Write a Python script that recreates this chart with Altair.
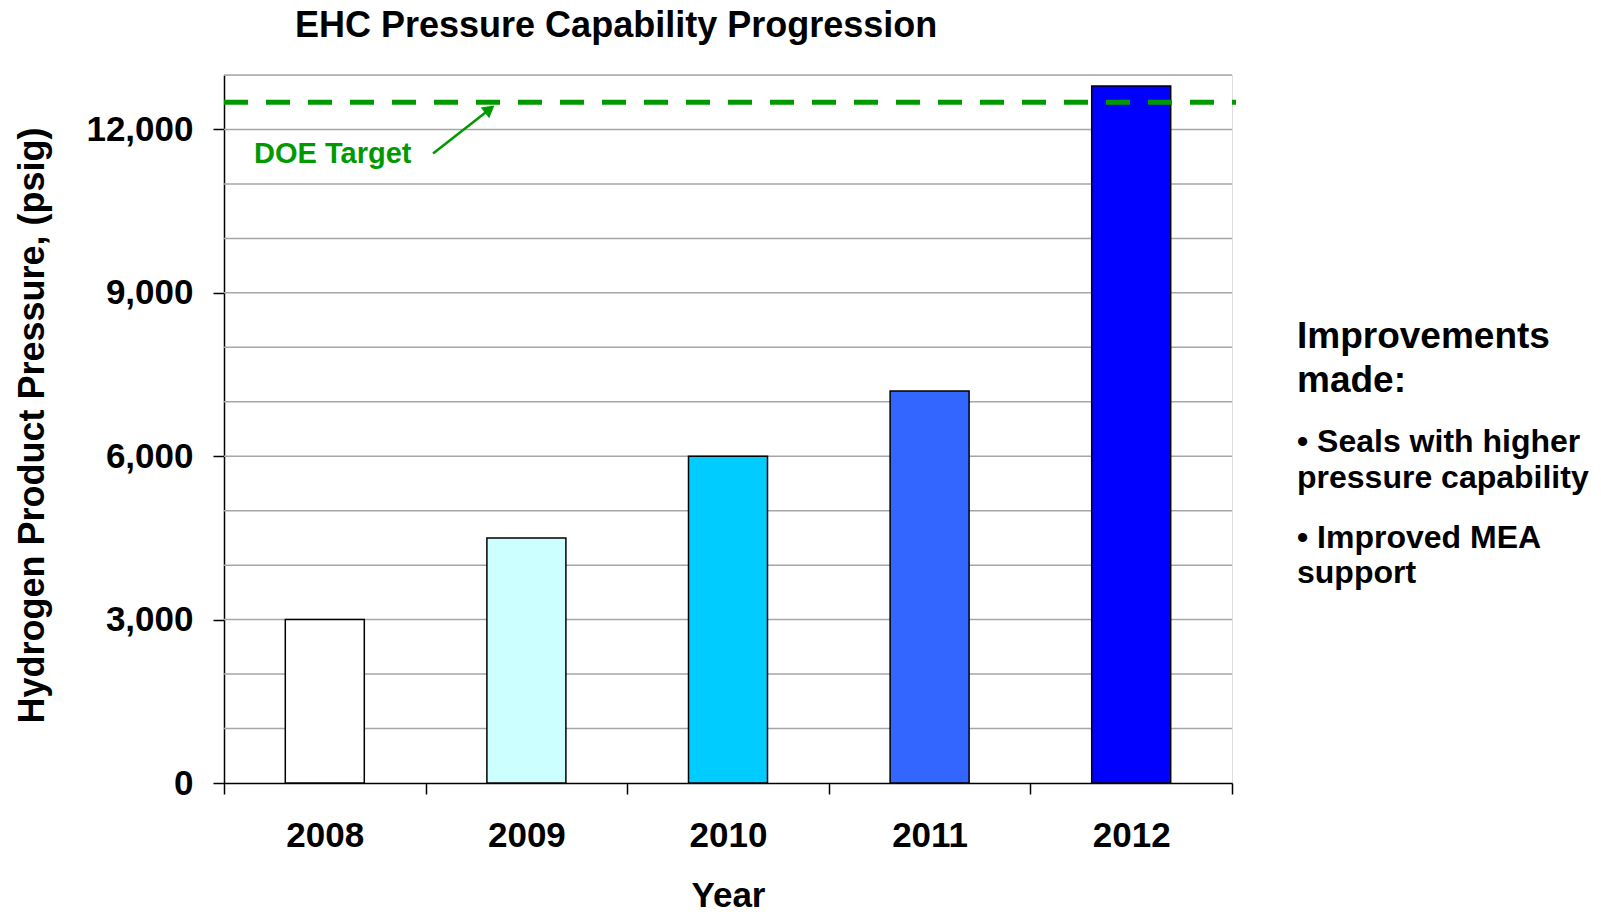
import altair as alt
import pandas as pd

# ---- data -------------------------------------------------------------
years = ["2008", "2009", "2010", "2011", "2012"]
pressure = [3000, 4500, 6000, 7200, 12800]
bar_colors = ["#FFFFFF", "#CCFFFF", "#00CCFF", "#3366FF", "#0000FF"]

doe_target = 12500
grid_values = list(range(1000, 14000, 1000))
y_tick_values = [0, 3000, 6000, 9000, 12000]

# annotation arrow and label, x in bar-slot units (0..5), y in psig
arrow_x = [1.037, 1.31]
arrow_y = [11560, 12349]
label_x = [0.149]
label_y = [11385]

header_lines = ["Improvements", "made:"]
bullet1_lines = ["\u2022 Seals with higher", "pressure capability"]
bullet2_lines = ["\u2022 Improved MEA", "support"]

# ---- layout -----------------------------------------------------------
W, H = 1008, 708
FONT = "Liberation Sans"
GREEN = "#009900"
GRID = "#A6A6A6"

bars_df = pd.DataFrame({"year": years, "pressure": pressure})
grid_df = pd.DataFrame({"pressure": grid_values})
target_df = pd.DataFrame({"pressure": [doe_target]})
arrow_df = pd.DataFrame({"slot": arrow_x, "pressure": arrow_y})
head_df = pd.DataFrame({"slot": arrow_x[-1:], "pressure": arrow_y[-1:]})
label_df = pd.DataFrame({"slot": label_x, "pressure": label_y})

y_scale = alt.Scale(domain=[0, 13000], nice=False, zero=True)
slot_scale = alt.Scale(domain=[0, 5], nice=False, zero=False)

# one shared y axis definition, reused by every layer so they merge cleanly
y_axis = alt.Axis(
    title="Hydrogen Product Pressure, (psig)",
    values=y_tick_values,
    format=",d",
    grid=False,
    domainColor="black",
    domainWidth=1.5,
    tickColor="black",
    tickWidth=1.5,
    tickSize=11,
    labelFont=FONT,
    labelFontSize=35,
    labelFontWeight="bold",
    labelColor="black",
    labelPadding=20,
    titleFont=FONT,
    titleFontSize=36,
    titleFontWeight="bold",
    titleColor="black",
    titleAngle=270,
    titleAlign="center",
    titleBaseline="middle",
    titleX=-192,
    titleY=350,
)


def y_enc():
    return alt.Y("pressure:Q", scale=y_scale, axis=y_axis)


grid = alt.Chart(grid_df).mark_rule(color=GRID, strokeWidth=1.5).encode(y=y_enc())

bars = alt.Chart(bars_df).mark_bar(size=79, stroke="black", strokeWidth=1.5).encode(
    x=alt.X(
        "year:N",
        sort=years,
        scale=alt.Scale(paddingInner=0, paddingOuter=0),
        axis=alt.Axis(
            title="Year",
            tickBand="extent",
            labelAngle=0,
            grid=False,
            domainColor="black",
            domainWidth=1.5,
            tickColor="black",
            tickWidth=1.5,
            tickSize=11,
            labelFont=FONT,
            labelFontSize=35,
            labelFontWeight="bold",
            labelColor="black",
            labelBaseline="alphabetic",
            labelPadding=52,
            titleFont=FONT,
            titleFontSize=35,
            titleFontWeight="bold",
            titleColor="black",
            titleBaseline="alphabetic",
            titleX=W / 2,
            titleY=123,
        ),
    ),
    y=y_enc(),
    color=alt.Color(
        "year:N", scale=alt.Scale(domain=years, range=bar_colors), legend=None
    ),
)

# dashed target line, drawn left to right so the dash pattern starts at the axis
target = alt.Chart(target_df).mark_rule(
    color=GREEN, strokeWidth=5, strokeDash=[24, 18]
).encode(y=y_enc(), x=alt.value(0), x2=alt.value(W + 4))

arrow_line = alt.Chart(arrow_df).mark_line(color=GREEN, strokeWidth=2.5).encode(
    x=alt.X("slot:Q", scale=slot_scale, axis=None),
    y=y_enc(),
)

arrow_head = alt.Chart(head_df).mark_point(
    shape="triangle", angle=52, filled=True, color=GREEN, size=190, opacity=1
).encode(
    x=alt.X("slot:Q", scale=slot_scale, axis=None),
    y=y_enc(),
)

doe_label = alt.Chart(label_df).mark_text(
    text="DOE Target",
    font=FONT,
    fontSize=29,
    fontWeight="bold",
    color=GREEN,
    align="left",
    baseline="alphabetic",
).encode(
    x=alt.X("slot:Q", scale=slot_scale, axis=None),
    y=y_enc(),
)

one_row = alt.Data(values=[{}])


def side_block(lines, size, line_height, baseline_y):
    return alt.Chart(one_row).mark_text(
        text=lines,
        font=FONT,
        fontSize=size,
        fontWeight="bold",
        color="black",
        align="left",
        baseline="alphabetic",
        lineHeight=line_height,
    ).encode(x=alt.value(1073), y=alt.value(baseline_y))


header = side_block(header_lines, 37, 44, 273)
bullet1 = side_block(bullet1_lines, 32, 36, 377)
bullet2 = side_block(bullet2_lines, 32, 35, 473)

chart = (
    alt.layer(grid, bars, target, arrow_line, arrow_head, doe_label, header, bullet1, bullet2)
    .resolve_scale(x="independent")
    .properties(
        width=W,
        height=H,
        padding={"left": 224, "top": 75, "right": 369, "bottom": 129},
        autosize=alt.AutoSizeParams(type="none"),
        title=alt.Title(
            "EHC Pressure Capability Progression",
            anchor="start",
            dx=281,
            offset=1,
            baseline="alphabetic",
            font=FONT,
            fontSize=36,
            fontWeight="bold",
            color="black",
        ),
    )
    .configure_view(stroke=GRID, strokeWidth=1.5)
    .configure(background="white")
)

chart.save("out.html", embed_options={"renderer": "svg", "actions": False})
